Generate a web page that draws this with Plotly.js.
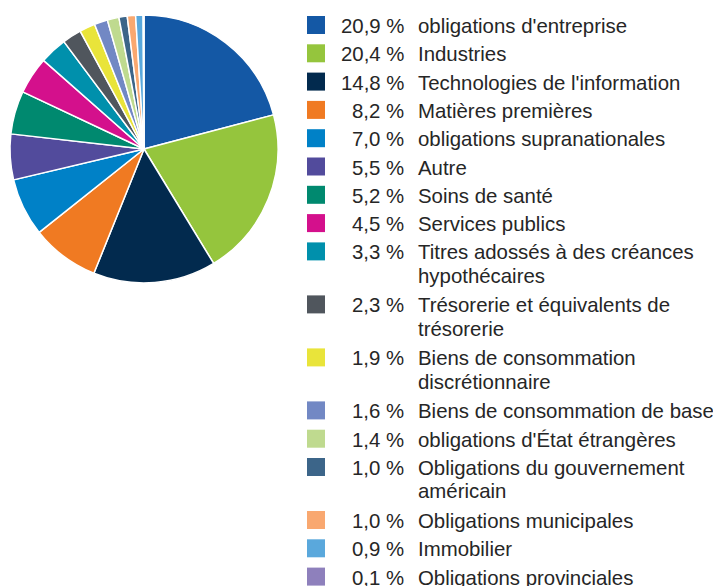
<!DOCTYPE html>
<html>
<head>
<meta charset="utf-8">
<script src="https://cdn.plot.ly/plotly-3.0.1.min.js"></script>
<style>html,body{margin:0;padding:0;background:#fff;}#chart{width:713px;height:586px;}</style>
</head>
<body>
<div id="chart"></div>
<script>
// Data
const categories = [
  "obligations d'entreprise",
  "Industries",
  "Technologies de l'information",
  "Matières premières",
  "obligations supranationales",
  "Autre",
  "Soins de santé",
  "Services publics",
  "Titres adossés à des créances<br>hypothécaires",
  "Trésorerie et équivalents de<br>trésorerie",
  "Biens de consommation<br>discrétionnaire",
  "Biens de consommation de base",
  "obligations d'État étrangères",
  "Obligations du gouvernement<br>américain",
  "Obligations municipales",
  "Immobilier",
  "Obligations provinciales"
];
const values = [20.9, 20.4, 14.8, 8.2, 7.0, 5.5, 5.2, 4.5, 3.3, 2.3, 1.9, 1.6, 1.4, 1.0, 1.0, 0.9, 0.1];
const percentLabels = values.map(v => v.toFixed(1).replace('.', ',') + ' %');
const colors = [
  "#1458a5", "#95c53d", "#022a4e", "#f07a22", "#0081c7", "#524b9c",
  "#00896f", "#d4108c", "#0090ac", "#50565d", "#e9e43a", "#7288c4",
  "#bfda8f", "#3c6589", "#f9a870", "#5aa8dc", "#8e80bc"
];

const W = 713, H = 586;
const px = x => x / W;
const py = y => 1 - y / H;

const textColor = "#262626";
const fontFam = "'Liberation Sans', Arial, sans-serif";
const fontSize = 20.4;

const shapes = [];
const annotations = [];
let extra = 0;
const rowGap = 28.3, wrapGap = 24.7, lineGap = 23.4, y0 = 25;
categories.forEach((cat, i) => {
  const lines = cat.split('<br>');
  const cy = y0 + i * rowGap + extra * wrapGap;
  shapes.push({
    type: 'rect', xref: 'paper', yref: 'paper',
    x0: px(307), x1: px(325), y0: py(cy + 9), y1: py(cy - 9),
    fillcolor: colors[i], line: {width: 0}
  });
  annotations.push({
    xref: 'paper', yref: 'paper', x: px(406), y: py(cy + 1),
    xanchor: 'right', yanchor: 'middle', showarrow: false,
    text: percentLabels[i], font: {family: fontFam, size: fontSize, color: textColor}
  });
  lines.forEach((ln, k) => {
    annotations.push({
      xref: 'paper', yref: 'paper', x: px(416), y: py(cy + 1 + k * lineGap),
      xanchor: 'left', yanchor: 'middle', showarrow: false,
      text: ln, font: {family: fontFam, size: fontSize, color: textColor}
    });
  });
  extra += lines.length - 1;
});

const trace = {
  type: 'pie',
  labels: categories.map(c => c.replace('<br>', ' ')),
  values: values,
  sort: false,
  direction: 'clockwise',
  rotation: 0,
  textinfo: 'none',
  hoverinfo: 'label+percent',
  marker: {colors: colors, line: {color: '#ffffff', width: 1.5}},
  domain: {x: [px(10), px(278)], y: [py(283), py(15)]},
  showlegend: false
};

Plotly.newPlot('chart', [trace], {
  width: W, height: H,
  margin: {l: 0, r: 0, t: 0, b: 0},
  paper_bgcolor: '#ffffff',
  showlegend: false,
  shapes: shapes,
  annotations: annotations
}, {displayModeBar: false, staticPlot: true});
</script>
</body>
</html>
